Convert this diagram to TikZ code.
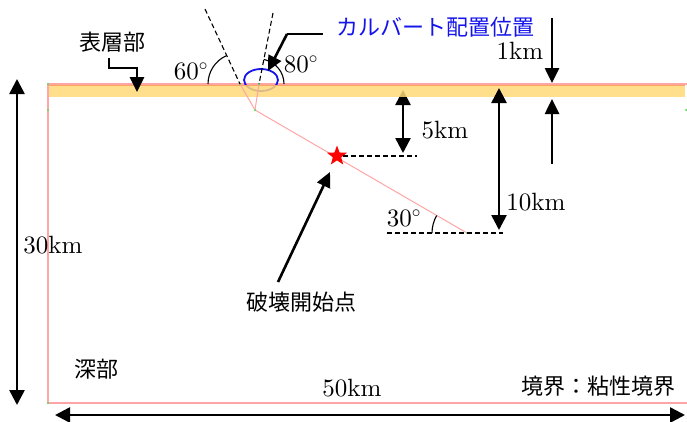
\documentclass[tikz,border=0pt]{standalone}
\usepackage{fontspec}
\newfontfamily\jfont{Noto Sans CJK JP}
\newfontfamily\lmten[Extension=.otf]{lmroman10-regular}
\usetikzlibrary{arrows.meta,shapes.geometric}
\definecolor{layeryellow}{RGB}{255,216,120}
\definecolor{layeredge}{RGB}{250,165,95}
\definecolor{pinkline}{RGB}{255,165,165}
\definecolor{meshgreen}{RGB}{110,215,110}
\definecolor{culvblue}{RGB}{20,20,235}
\tikzset{
    lbl/.style={font=\lmten\fontsize{25}{29}\selectfont, inner sep=0},
    jlbl/.style={font=\jfont\fontsize{22}{26}\selectfont, inner sep=0},
    dimarrow/.style={<->, >={Triangle[length=15pt,width=15pt]}, line width=2.6pt},
    ptr/.style={->, >={Triangle[length=15pt,width=14pt]}, line width=2.6pt},
    guide/.style={dash pattern=on 5pt off 3pt, line width=1.1pt},
    bnd/.style={draw=pinkline, line width=1.2pt},
    fault/.style={draw=pinkline, line width=1pt},
    mesh/.style={circle, fill=meshgreen, inner sep=0, minimum size=2.5pt},
    hypo/.style={star, star points=5, star point ratio=2.4, fill=red, inner sep=0, minimum size=21pt},
}

\begin{document}
\begin{tikzpicture}[x=1pt,y=-1pt]
    \useasboundingbox (0,0) rectangle (687,421);
    % model outline and fault
    \coordinate (tl) at (48,84);
    \coordinate (tr) at (687,84);
    \coordinate (bl) at (48,403);
    \coordinate (br) at (687,403);
    \coordinate (f1) at (240,84);
    \coordinate (f2) at (259,84);
    \coordinate (fk) at (255,110);
    \coordinate (fe) at (467,233);
    \draw[bnd] (tr) -- (tl) -- (bl) -- (br);
    \draw[culvblue, line width=1.8pt] (261,80) ellipse[x radius=17, y radius=11];
    \draw[dimarrow] (403,90) -- (403,153);
    \fill[layeryellow, opacity=0.85] (49,86) rectangle (685,97);
    \draw[layeredge, line width=1pt] (49,85.5) -- (685,85.5);
    \draw[fault] (f1) -- (fk) -- (fe);
    \draw[fault] (f2) -- (fk);
    \foreach \p in {(tl),(48,110),(bl),(f1),(f2),(fk),(fe),(686,110)}
        \node[mesh] at \p {};
    \node[hypo] (hypo) at (337,156) {};

    % angle guides
    \coordinate (d60) at (205,9);
    \coordinate (d80) at (273,13);
    \coordinate (h5) at (417,156);
    \coordinate (g1) at (387,233);
    \coordinate (g2) at (503,233);
    \draw[guide] (d60) -- (f1);
    \draw[guide] (d80) -- (f2);
    \draw[guide] (hypo) -- (h5);
    \draw[guide] (g1) -- (g2);
    \draw[line width=1.1pt] (208,84) arc[start angle=180, end angle=245.6, radius=31];
    \draw[line width=1.1pt] (284,84) arc[start angle=0, end angle=-79, radius=25];
    \draw[line width=1.1pt] (432,233) arc[start angle=180, end angle=210, radius=35];

    % labels
    \node[jlbl] (surf) at (112,42) {表層部};
    \node[jlbl, text=culvblue] (culv) at (435,27) {カルバート配置位置};
    \node[lbl] (a60) at (191,71) {60$^\circ$};
    \node[lbl] (a80) at (301,64) {80$^\circ$};
    \node[lbl] (a30) at (404,218) {30$^\circ$};
    \node[lbl] (d1) at (520,51) {1km};
    \node[lbl] (d5) at (445,130) {5km};
    \node[lbl] (d10) at (536,202) {10km};
    \node[lbl] (d30) at (53,245) {30km};
    \node[lbl] (d50) at (352,388) {50km};
    \node[jlbl] (start) at (301,302) {破壊開始点};
    \node[jlbl] (deep) at (96,369) {深部};
    \node[jlbl] (edge) at (598,386) {境界：粘性境界};

    % dimensions
    \draw[ptr] (552,18) -- (552,83);
    \draw[ptr] (552,164) -- (552,99);
    \draw[dimarrow] (499,88) -- (499,230);
    \draw[dimarrow] (17,79) -- (17,405);
    \draw[dimarrow] (55,415) -- (685,415);

    % callouts
    \draw[ptr] (109,58) -- (109,68) -- (137,68) -- (137,92);
    \draw[line width=2pt] (323,34) -- (287,34);
    \draw[ptr] (287,34) -- (268,71);
    \draw[ptr] (278,282) -- (330,172);
\end{tikzpicture}
\end{document}
